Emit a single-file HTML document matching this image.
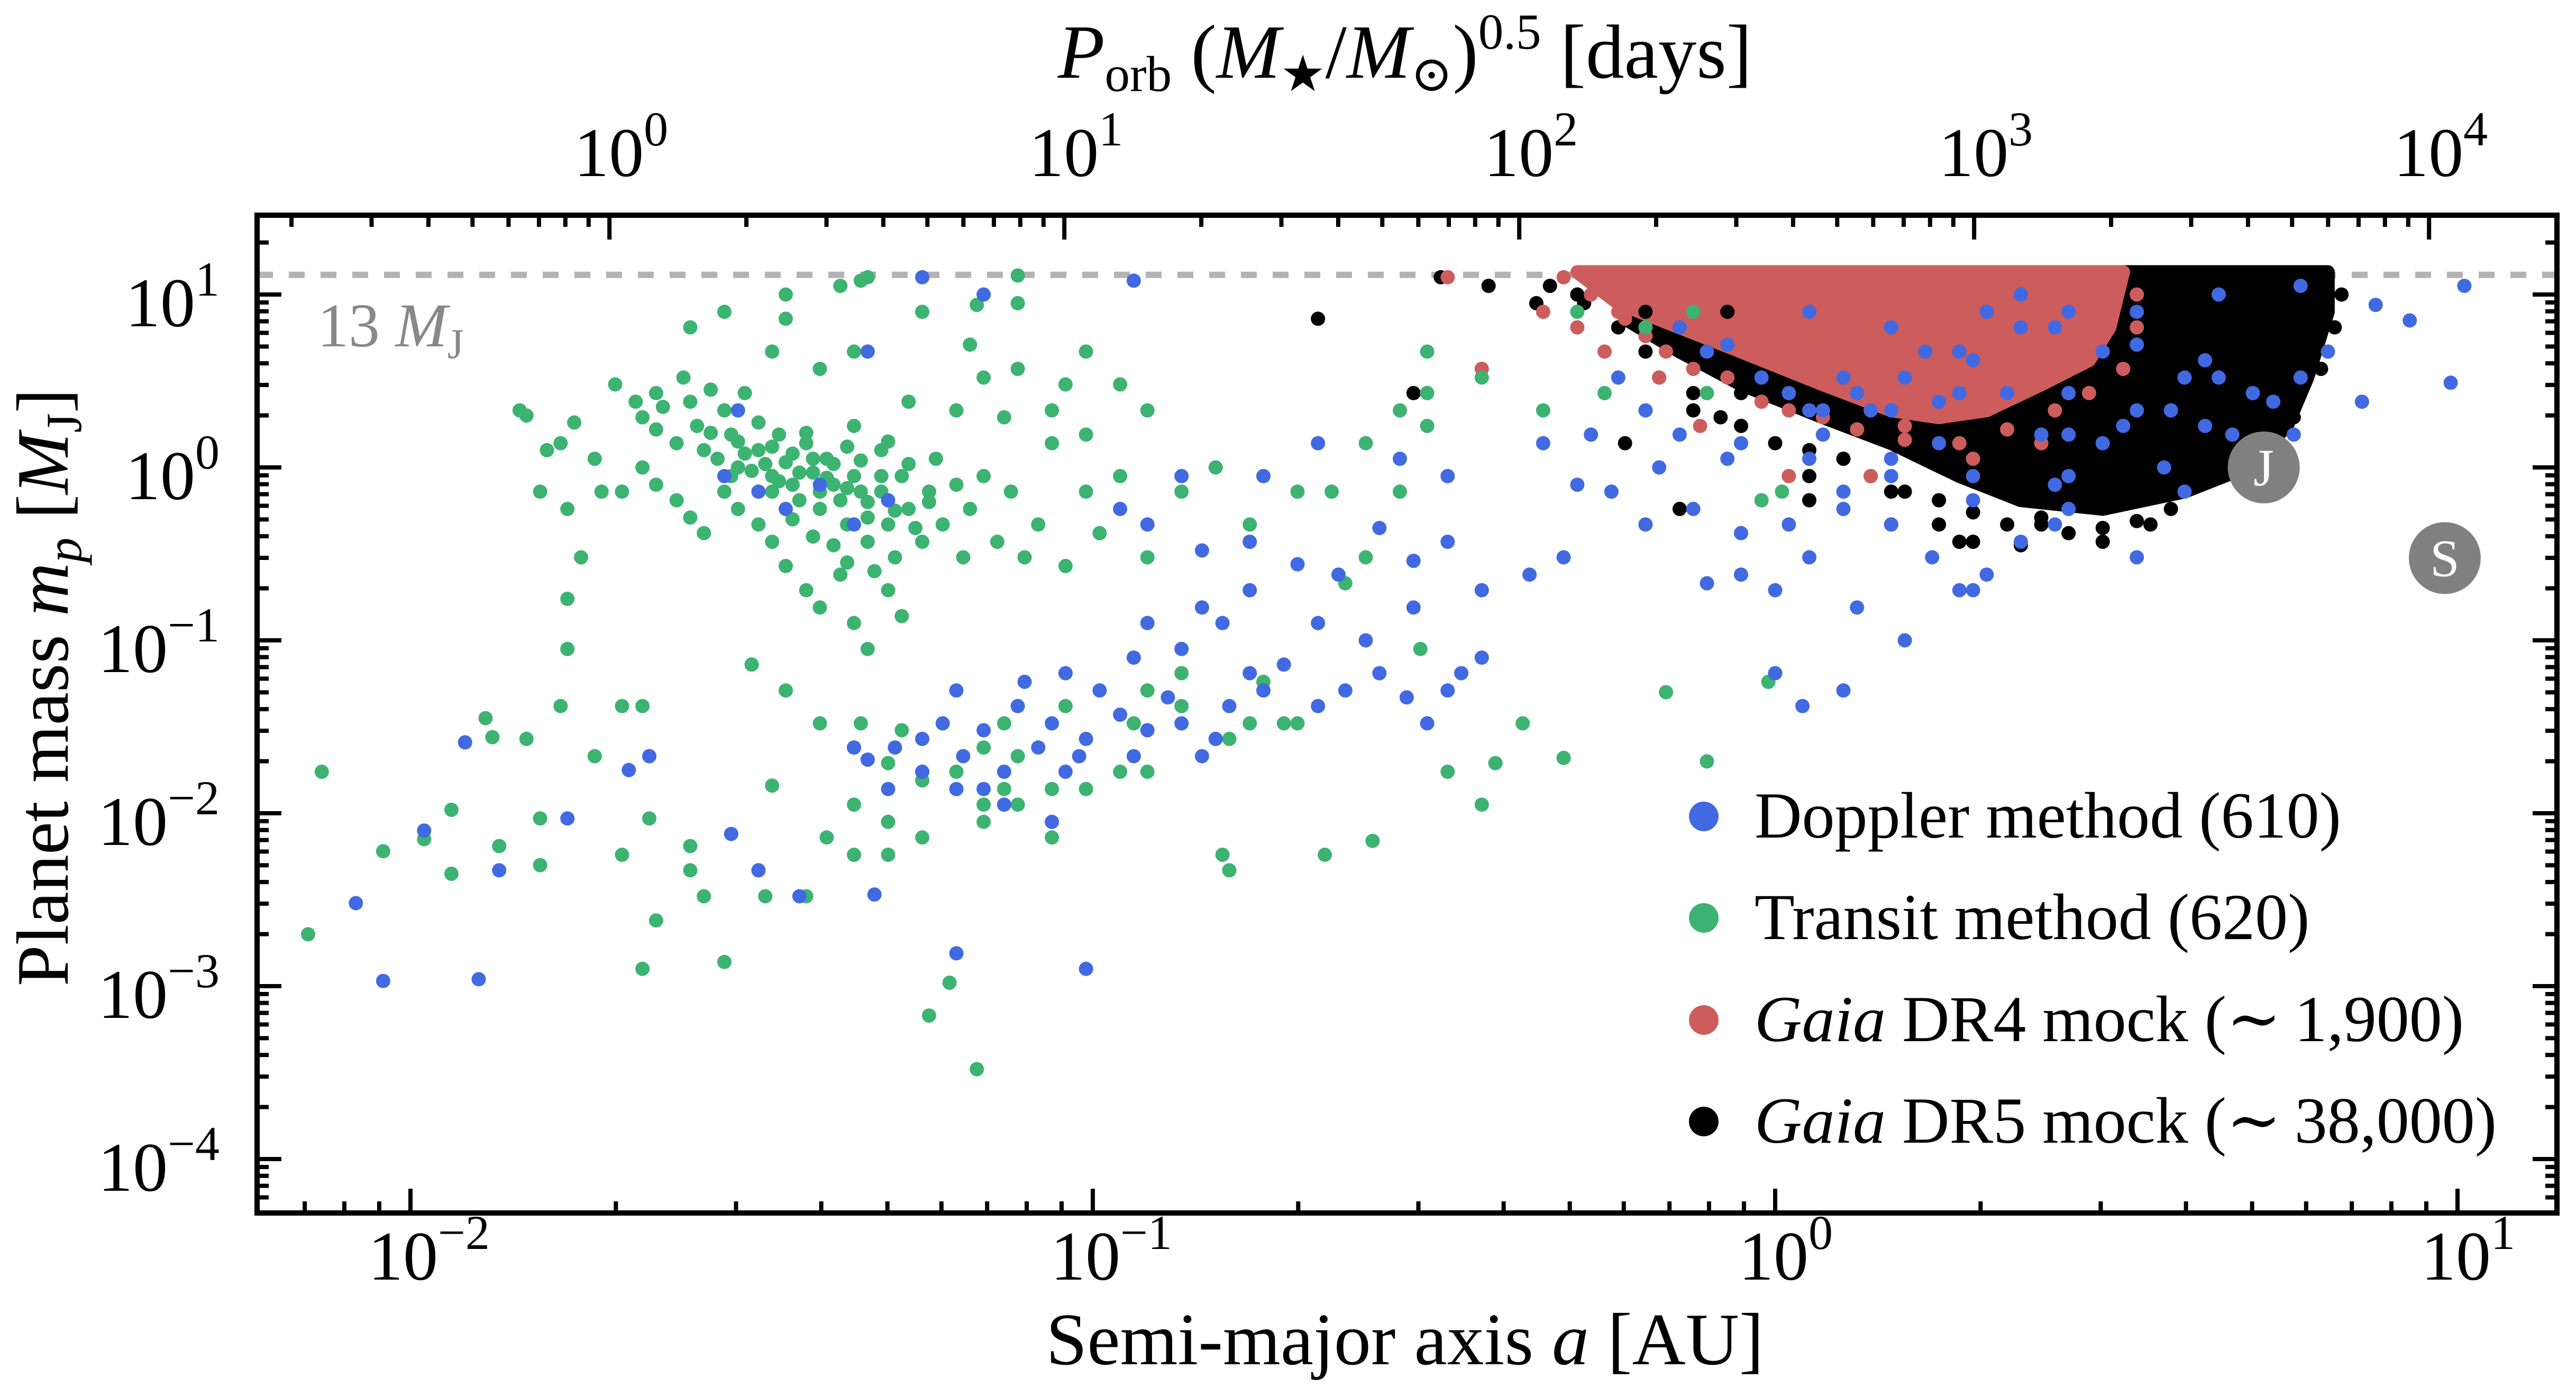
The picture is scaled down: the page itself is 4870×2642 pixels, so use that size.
<!DOCTYPE html>
<html><head><meta charset="utf-8"><style>
html,body{margin:0;padding:0;background:#fff}
svg{display:block}
text{font-family:"Liberation Serif","DejaVu Serif",serif}
</style></head><body>
<svg id="chart" width="4870" height="2642" viewBox="0 0 4870 2642" xmlns="http://www.w3.org/2000/svg">
<rect x="0" y="0" width="4870" height="2642" fill="#fff"/>
<g id="regions"></g>
<g id="points"></g>
<g id="axes"></g>
<g id="legend"></g>
</svg>
<script>
// ---- data (log10 a [AU], log10 m [MJ]) ----
const greenLogA=[-2.15,-2.13,-2.04,-1.98,-1.94,-1.94,-1.89,-1.88,-1.87,-1.81,-1.83,-1.81,-1.78,-1.77,-1.84,-1.83,-1.80,-1.77,-1.75,-1.73,-1.69,-1.66,-1.69,-1.65,-1.66,-1.64,-1.59,-1.57,-1.59,-1.54,-1.50,-1.48,-1.47,-1.45,-1.42,-1.39,-1.35,-1.34,-1.30,-1.28,-1.25,-1.24,-1.21,-1.17,-1.16,-1.13,-1.11,-1.06,-1.01,-0.94,-0.92,-0.87,-0.81,-0.80,-0.80,-0.77,-0.72,-0.66,-0.59,-0.52,-0.48,-0.43,-0.41,-0.37,-0.31,-0.16,-0.10,-0.01,
-1.70,-1.67,-1.66,-1.64,-1.64,-1.63,-1.61,-1.60,-1.59,-1.58,-1.57,-1.56,-1.54,-1.53,-1.52,-1.51,-1.49,-1.49,-1.47,-1.47,-1.46,-1.45,-1.44,-1.43,-1.42,-1.41,-1.40,-1.40,-1.39,-1.38,-1.37,-1.36,-1.35,-1.35,-1.34,-1.33,-1.33,-1.31,-1.31,-1.30,-1.29,-1.28,-1.27,-1.25,-1.24,-1.23,-1.22,-1.20,-1.19,-1.18,-1.16,-1.14,-1.12,-1.10,-1.08,-1.06,-1.04,-1.01,-0.99,-0.96,-0.92,-0.87,-0.82,-0.77,-0.70,-0.65,-0.60,-0.55,-0.51,
-1.81,-1.78,-1.76,-1.73,-1.72,-1.77,-1.69,-1.66,-1.64,-1.61,-1.59,-1.57,-1.54,-1.52,-1.49,-1.47,-1.45,-1.42,-1.40,-1.37,-1.35,-1.33,-1.30,-1.28,-1.59,-1.54,-1.45,-1.37,-1.33,-1.25,-1.18,-1.16,-1.11,-1.04,-1.01,-0.96,-0.92,-1.11,-1.17,-1.11,-1.34,-1.45,-1.47,-1.35,-1.40,-1.27,-1.20,-1.13,-1.06,-1.01,
-1.40,-1.35,-1.30,-1.25,-1.20,-1.16,-1.11,-1.06,-1.16,-1.30,-1.25,-1.35,-0.92,-0.87,-0.75,-0.70,-1.04,-0.96,-1.13,
-0.43,-0.51,-0.55,-0.63,-0.60,-0.34,-0.25,-0.19,-0.12,0.01,-0.02,-0.10,-0.29,-0.51,
-1.55,-1.53,-1.51,-1.50,-1.48,-1.46,-1.44,-1.43,-1.41,-1.39,-1.38,-1.36,-1.34,-1.33,-1.31,-1.29,-1.27,-1.26,-1.44,-1.41,-1.38,-1.36,-1.32,-1.47,-1.52,-1.56,-1.42,-1.36,-1.30,-1.24];
const greenLogM=[-2.70,-1.76,-2.22,-2.15,-1.98,-2.35,-1.45,-1.56,-2.19,-2.30,-1.57,-2.03,-1.38,-1.05,0.33,0.30,0.10,-0.76,-0.52,-1.67,-1.38,-1.38,-2.24,-2.03,-2.90,-2.62,-2.33,-2.48,-2.19,-2.86,-1.14,-2.48,-1.84,-1.29,-2.48,-2.14,-1.95,-1.48,-2.24,-1.52,-1.76,-3.17,-2.98,-3.48,-1.95,-1.86,-1.67,-2.14,-1.86,-1.48,-1.76,-1.38,-2.24,-2.33,-1.57,-1.48,-1.48,-2.24,-2.16,-1.05,-1.76,-1.95,-1.71,-1.48,-1.68,-1.30,-1.70,-1.24,
0.48,0.38,0.29,0.22,0.43,0.35,0.14,0.52,0.38,0.24,0.10,0.45,0.33,0.19,0.00,0.43,0.26,0.10,-0.05,-0.14,0.19,0.03,-0.10,-0.19,0.14,-0.03,-0.14,-0.24,0.05,-0.10,-0.19,-0.33,0.24,-0.05,-0.14,-0.29,-0.43,0.10,-0.14,-0.33,-0.52,-0.05,-0.24,-0.43,-0.14,0.05,-0.33,-0.10,-0.52,-0.24,-0.05,-0.43,-0.14,-0.52,-0.33,0.14,-0.57,-0.14,-0.38,-0.05,-0.52,-0.14,0.00,-0.33,-0.14,-0.14,0.14,0.33,0.43,
-0.14,0.14,0.26,0.05,-0.14,-0.24,-0.14,0.00,-0.10,-0.19,-0.29,-0.38,-0.14,-0.24,-0.33,-0.43,-0.57,-0.71,-0.81,-0.62,-0.90,-1.05,-0.71,-0.86,0.81,0.90,1.00,1.05,1.10,0.90,0.71,0.52,0.57,0.48,0.67,0.48,0.33,0.95,0.94,1.11,1.08,0.86,0.67,0.67,0.57,0.38,0.33,0.29,0.33,0.19,
-1.48,-1.62,-1.71,-1.81,-1.76,-1.62,-1.95,-1.86,-2.05,-2.05,-2.14,-2.24,-1.29,-1.19,-1.24,-1.48,-1.38,-1.76,-1.48,
0.52,0.24,-0.14,-0.67,-0.52,0.33,0.43,0.81,0.90,-0.14,-0.19,0.43,0.90,0.67,
0.05,-0.05,0.08,-0.02,0.02,-0.08,0.08,-0.03,0.05,-0.06,0.02,-0.12,0.04,-0.20,-0.05,-0.25,0.02,-0.35,-0.30,-0.40,-0.45,-0.55,-0.60,0.12,0.15,0.20,0.20,0.12,0.15,-0.20];

const blueLogA=[-2.08,-2.04,-1.90,-1.98,-1.92,-1.87,-1.77,-1.68,-1.65,-1.53,-1.49,-1.43,-1.32,-1.20,-1.01,-0.94,-0.84,-0.77,-0.70,-0.64,-0.58,-0.53,-0.48,
-1.35,-1.33,-1.29,-1.25,-1.22,-1.19,-1.16,-1.13,-1.11,-1.08,-1.06,-1.04,-1.01,-0.99,-0.96,-0.94,-0.92,-0.89,-0.87,-0.84,-0.82,-0.80,-0.77,-0.75,-0.72,-0.67,-0.63,-0.58,-0.54,-0.51,-0.48,-0.46,-0.43,
-1.30,-1.25,-1.20,-1.13,-1.06,-1.02,-1.16,-1.20,-1.10,-1.04,-0.94,-0.87,-0.81,-0.92,-0.84,-0.77,-0.67,-0.60,-0.53,-0.43,-0.36,-0.31,-0.92,-0.96,-0.87,-0.75,-0.67,-0.55,-0.48,-0.34,-0.27,-0.19,-0.17,-0.12,-0.05,0.00,0.05,0.12,0.19,0.27,0.31,0.36,0.41,0.53,0.60,-0.05,0.07,0.17,
-1.54,-1.49,-1.45,-1.40,-1.35,-1.30,-1.52,-1.33,-1.16,-1.25,-0.23,-0.14,-0.07,0.05,0.17,0.29,0.41,0.53,0.65,0.77,0.88,0.93,0.81,0.76,0.72,0.86,0.77,0.65,0.53,0.48,0.43,0.39,0.29,0.24,0.14,0.10,0.02,0.96,0.63,0.58,0.36,0.22,0.27,0.31,0.48,0.43,0.57,0.67,0.73,0.17,0.10,0.02,-0.05,-0.10,-0.19,-0.24,-0.29,0.10,0.00,0.04,0.29,1.01,0.99,
-0.10,-0.02,0.05,0.12,0.19,0.27,0.36,0.43,0.53,0.60,0.07,0.17,0.24,0.34,0.43,0.51,0.63,0.70,0.17,0.29,0.41,0.05,-0.07,-0.14,0.10,0.23,0.43];
const blueLogM=[-2.52,-2.97,-2.96,-2.10,-1.59,-2.33,-2.03,-1.75,-1.67,-2.12,-2.33,-2.48,-2.47,-2.81,-2.90,1.08,-0.48,-0.43,-0.56,-0.62,-0.35,-0.54,-0.43,
-1.62,-1.69,-1.62,-1.57,-1.48,-1.67,-1.52,-1.76,-1.38,-1.62,-1.48,-1.76,-1.57,-1.29,-1.43,-1.67,-1.52,-1.33,-1.48,-1.67,-1.57,-1.38,-1.19,-1.29,-1.14,-1.38,-1.29,-1.19,-1.33,-1.48,-1.29,-1.19,-1.10,
-1.86,-1.76,-1.86,-1.95,-2.05,-1.67,-1.86,-1.29,-1.24,-1.19,-1.10,-1.05,-0.90,-0.90,-0.81,-0.71,-0.90,-1.00,-0.81,-0.71,-0.62,-0.52,-0.33,-0.24,-0.05,-0.05,0.14,0.05,-0.05,0.14,0.19,0.33,0.00,-0.24,-0.62,-0.71,-0.52,-0.81,-1.00,-0.71,-0.62,-0.43,-0.33,-0.52,-0.14,0.14,0.33,0.05,
-0.05,-0.14,-0.24,-0.10,-0.33,-0.19,0.33,0.67,1.00,1.10,0.52,0.81,0.71,0.90,0.81,0.62,0.81,0.90,1.00,1.05,0.94,0.85,0.67,0.19,-0.14,0.38,0.52,0.52,0.33,0.14,-0.05,0.19,-0.05,0.14,0.33,0.52,0.43,-0.43,0.62,0.33,1.00,0.67,0.43,0.90,0.67,0.43,0.00,0.19,0.38,-0.33,-0.14,-0.33,-0.38,-0.67,-0.33,-0.14,-0.10,-1.29,-1.19,-1.38,-0.71,1.05,0.49,
0.67,0.52,0.33,0.43,0.52,0.67,0.81,0.90,0.71,0.52,0.19,0.33,0.38,0.43,0.19,0.24,0.24,0.43,-0.05,-0.19,-0.10,0.05,0.05,0.19,-0.24,-0.52,-0.24];

const blackLogA=[-0.67,-0.53,-0.49,-0.42,-0.35,-0.29,-0.19,-0.14,-0.07,-0.12,-0.05,0.29,0.39,0.43,0.48,0.55,0.34,0.24,0.05,-0.22,0.17,0.53,
-0.33,-0.28,-0.23,-0.19,-0.17,-0.12,-0.08,-0.05,0.00,0.05,0.10,0.14,0.19,0.24,0.29,0.34,0.39,0.43,0.48,0.53,0.58,0.27,0.36,0.17,0.05,0.60,0.64,0.67,0.76,0.80,0.82,0.83];
const blackLogM=[0.86,0.43,1.10,1.05,0.95,1.00,0.90,-0.24,0.90,0.33,0.43,-0.43,-0.33,-0.14,-0.43,-0.33,-0.14,-0.33,-0.05,0.14,-0.14,-0.14,
1.05,0.95,0.81,0.67,0.52,0.43,0.29,0.24,0.14,0.10,0.05,-0.05,-0.14,-0.19,-0.26,-0.33,-0.29,-0.38,-0.35,-0.31,-0.24,-0.43,-0.45,-0.33,-0.19,-0.10,0.00,0.05,0.29,0.57,0.81,1.00];
const redLogA=[-0.48,-0.43,-0.29,-0.25,-0.23,-0.17,-0.07,-0.11,0.02,0.19,0.14,0.29,0.39,0.48,0.53,-0.34,
-0.31,-0.27,-0.22,-0.19,-0.16,-0.12,-0.07,-0.02,0.02,0.07,0.12,0.19,0.27,0.34,0.41,0.46,0.51,0.53];
const redLogM=[1.10,0.57,0.81,0.67,0.90,0.52,0.81,0.24,-0.05,0.24,-0.05,0.05,0.14,1.00,1.00,0.90,
1.10,1.00,0.86,0.76,0.67,0.57,0.52,0.38,0.33,0.29,0.22,0.16,0.14,0.22,0.33,0.43,0.57,0.81];

// dense-cloud envelopes (log10 a, log10 m)
const dr5EnvLogA=[-0.22,0.81,0.81,0.78,0.75,0.69,0.60,0.48,0.36,0.27,0.17,0.07,-0.05,-0.14,-0.22];
const dr5EnvLogM=[1.13,1.13,0.90,0.52,0.24,0.00,-0.14,-0.24,-0.19,-0.05,0.14,0.29,0.48,0.67,0.86];
const dr4EnvLogA=[-0.29,0.51,0.49,0.46,0.39,0.31,0.24,0.17,0.07,-0.05,-0.14,-0.23];
const dr4EnvLogM=[1.13,1.13,0.81,0.62,0.48,0.33,0.29,0.33,0.48,0.67,0.81,0.95];

const planetNames=["J","S"];
const planetA=[5.2,9.58];
const planetM=[1.0,0.299];

const xTickExp=[-2,-1,0,1];
const yTickExp=[1,0,-1,-2,-3,-4];
const topTickExp=[0,1,2,3,4];
const legendLabels=["Doppler method (610)","Transit method (620)","DR4 mock (\u223C\u20091,900)","DR5 mock (\u223C\u200938,000)"];
const legendColors=["#4169e1","#3cb371","#cd5c5c","#000000"];
const deuteriumLimit=13;

// ---- axes ----
const L=486,R=4834,T=407,B=2294;
const X0=3356,XD=1290,Y0=884,YD=327;
const xs=la=>X0+XD*la;
const ys=lm=>Y0-YD*lm;
const xTopP=lp=>xs((lp-Math.log10(365.25))/1.5);
const NS="http://www.w3.org/2000/svg";
function mk(tag,attrs,parent){const e=document.createElementNS(NS,tag);for(const k in attrs)e.setAttribute(k,attrs[k]);parent.appendChild(e);return e;}

const regions=document.getElementById('regions');
const pts=document.getElementById('points');
const axes=document.getElementById('axes');
const legend=document.getElementById('legend');

const defs=mk('defs',{},document.getElementById('chart'));
const cp=mk('clipPath',{id:'plotclip'},defs);
mk('rect',{x:L,y:T,width:R-L,height:B-T},cp);
regions.setAttribute('clip-path','url(#plotclip)');
pts.setAttribute('clip-path','url(#plotclip)');

const dl=mk('line',{x1:L,x2:R,y1:ys(Math.log10(deuteriumLimit)),y2:ys(Math.log10(deuteriumLimit)),stroke:'#b3b3b3','stroke-width':12,'stroke-dasharray':'30 30'},regions);


const lt=mk('text',{x:600,y:655,'font-size':118,fill:'#888'},axes);


lt.innerHTML='13 <tspan font-style="italic">M</tspan><tspan font-size="80" dy="22">J</tspan>';

function env(la,lm,color,name){
  const d=la.map((v,i)=>(i?'L':'M')+xs(v).toFixed(1)+' '+ys(lm[i]).toFixed(1)).join(' ')+'Z';
  const p=mk('path',{d:d,fill:color,stroke:color,'stroke-width':26,'stroke-linejoin':'round'},regions);
  
  
}
const RAD=13.5;
function scatter(la,lm,color,name){
  for(let i=0;i<la.length;i++){
    const c=mk('circle',{cx:xs(la[i]).toFixed(1),cy:ys(lm[i]).toFixed(1),r:RAD,fill:color},pts);
    
    
  }
}
env(dr5EnvLogA,dr5EnvLogM,'#000','dr5-density-region');
scatter(blackLogA,blackLogM,'#000','dr5-point');
env(dr4EnvLogA,dr4EnvLogM,'#cd5c5c','dr4-density-region');
scatter(redLogA,redLogM,'#cd5c5c','dr4-point');
scatter(greenLogA,greenLogM,'#3cb371','transit-point');
scatter(blueLogA,blueLogM,'#4169e1','doppler-point');

for(let i=0;i<planetNames.length;i++){
  const cx=xs(Math.log10(planetA[i])),cy=ys(Math.log10(planetM[i]));
  const c=mk('circle',{cx:cx,cy:cy,r:68,fill:'#808080'},pts);
  
  
  const t=mk('text',{x:cx,y:cy+34,'font-size':100,fill:'#fff','text-anchor':'middle'},pts);
  
  
  t.textContent=planetNames[i];
}

function tick(x1,y1,x2,y2,name){const l=mk('line',{x1:x1,y1:y1,x2:x2,y2:y2,stroke:'#000','stroke-width':8},axes);
  
  }
for(let e=-3;e<=1;e++){for(let k=1;k<10;k++){
  const x=xs(e+Math.log10(k)); if(x<L+5||x>R-5) continue;
  const len=k==1?46:22;
  tick(x,B,x,B-len,'x-tick'); }}
for(let e=-5;e<=1;e++){for(let k=1;k<10;k++){
  const y=ys(e+Math.log10(k)); if(y<T+5||y>B-5) continue;
  const len=k==1?46:22;
  tick(L,y,L+len,y,'y-tick'); tick(R,y,R-len,y,'y-tick-right'); }}
for(let e=-1;e<=4;e++){for(let k=1;k<10;k++){
  const x=xTopP(e+Math.log10(k)); if(x<L+5||x>R-5) continue;
  const len=k==1?46:22;
  tick(x,T,x,T+len,'top-tick'); }}
const fr=mk('rect',{x:L,y:T,width:R-L,height:B-T,fill:'none',stroke:'#000','stroke-width':10},axes);



function powLabel(x,y,exp,anchor,name){
  const t=mk('text',{x:x,y:y,'font-size':132,'text-anchor':anchor},axes);
  
  
  t.innerHTML='10<tspan font-size="92" dy="-58">'+(exp<0?'\u2212'+(-exp):exp)+'</tspan>';
}
xTickExp.forEach(e=>powLabel(xs(e)+(e<0?35:20),2420,e,'middle','x-tick-label'));
yTickExp.forEach(e=>powLabel(415,ys(e)+60,e,'end','y-tick-label'));
topTickExp.forEach(e=>powLabel(xTopP(e)+22,333,e,'middle','top-tick-label'));

const xt=mk('text',{x:2656,y:2580,'font-size':140,'text-anchor':'middle'},axes);


xt.innerHTML='Semi-major axis <tspan font-style="italic">a</tspan> [AU]';
const tt=mk('text',{x:2656,y:147,'font-size':145,'text-anchor':'middle'},axes);


tt.innerHTML='<tspan font-style="italic">P</tspan><tspan font-size="95" dy="25">orb</tspan><tspan dy="-25"> (</tspan><tspan font-style="italic">M</tspan><tspan font-size="95" dy="25">\u2605</tspan><tspan dy="-25">/</tspan><tspan font-style="italic">M</tspan><tspan font-size="95" dy="25">\u2299</tspan><tspan dy="-25">)</tspan><tspan font-size="95" dy="-55">0.5</tspan><tspan dy="55"> [days]</tspan>';
const yt=mk('text',{x:0,y:0,'font-size':140,'text-anchor':'middle',transform:'translate(128,1300) rotate(-90)'},axes);


yt.innerHTML='Planet mass <tspan font-style="italic">m</tspan><tspan font-size="95" font-style="italic" dy="25">p</tspan><tspan dy="-25"> [</tspan><tspan font-style="italic">M</tspan><tspan font-size="95" dy="25">J</tspan><tspan dy="-25">]</tspan>';

const rowY=[1544,1736,1929,2121];
legendLabels.forEach((lab,i)=>{
  const g=mk('g',{},legend);
  
  
  mk('circle',{cx:3221,cy:rowY[i],r:28,fill:legendColors[i]},g);
  const t=mk('text',{x:3317,y:rowY[i]+40,'font-size':124},g);
  t.innerHTML=(i>=2?'<tspan font-style="italic">Gaia</tspan> ':'')+lab;
});
</script>
</body></html>
